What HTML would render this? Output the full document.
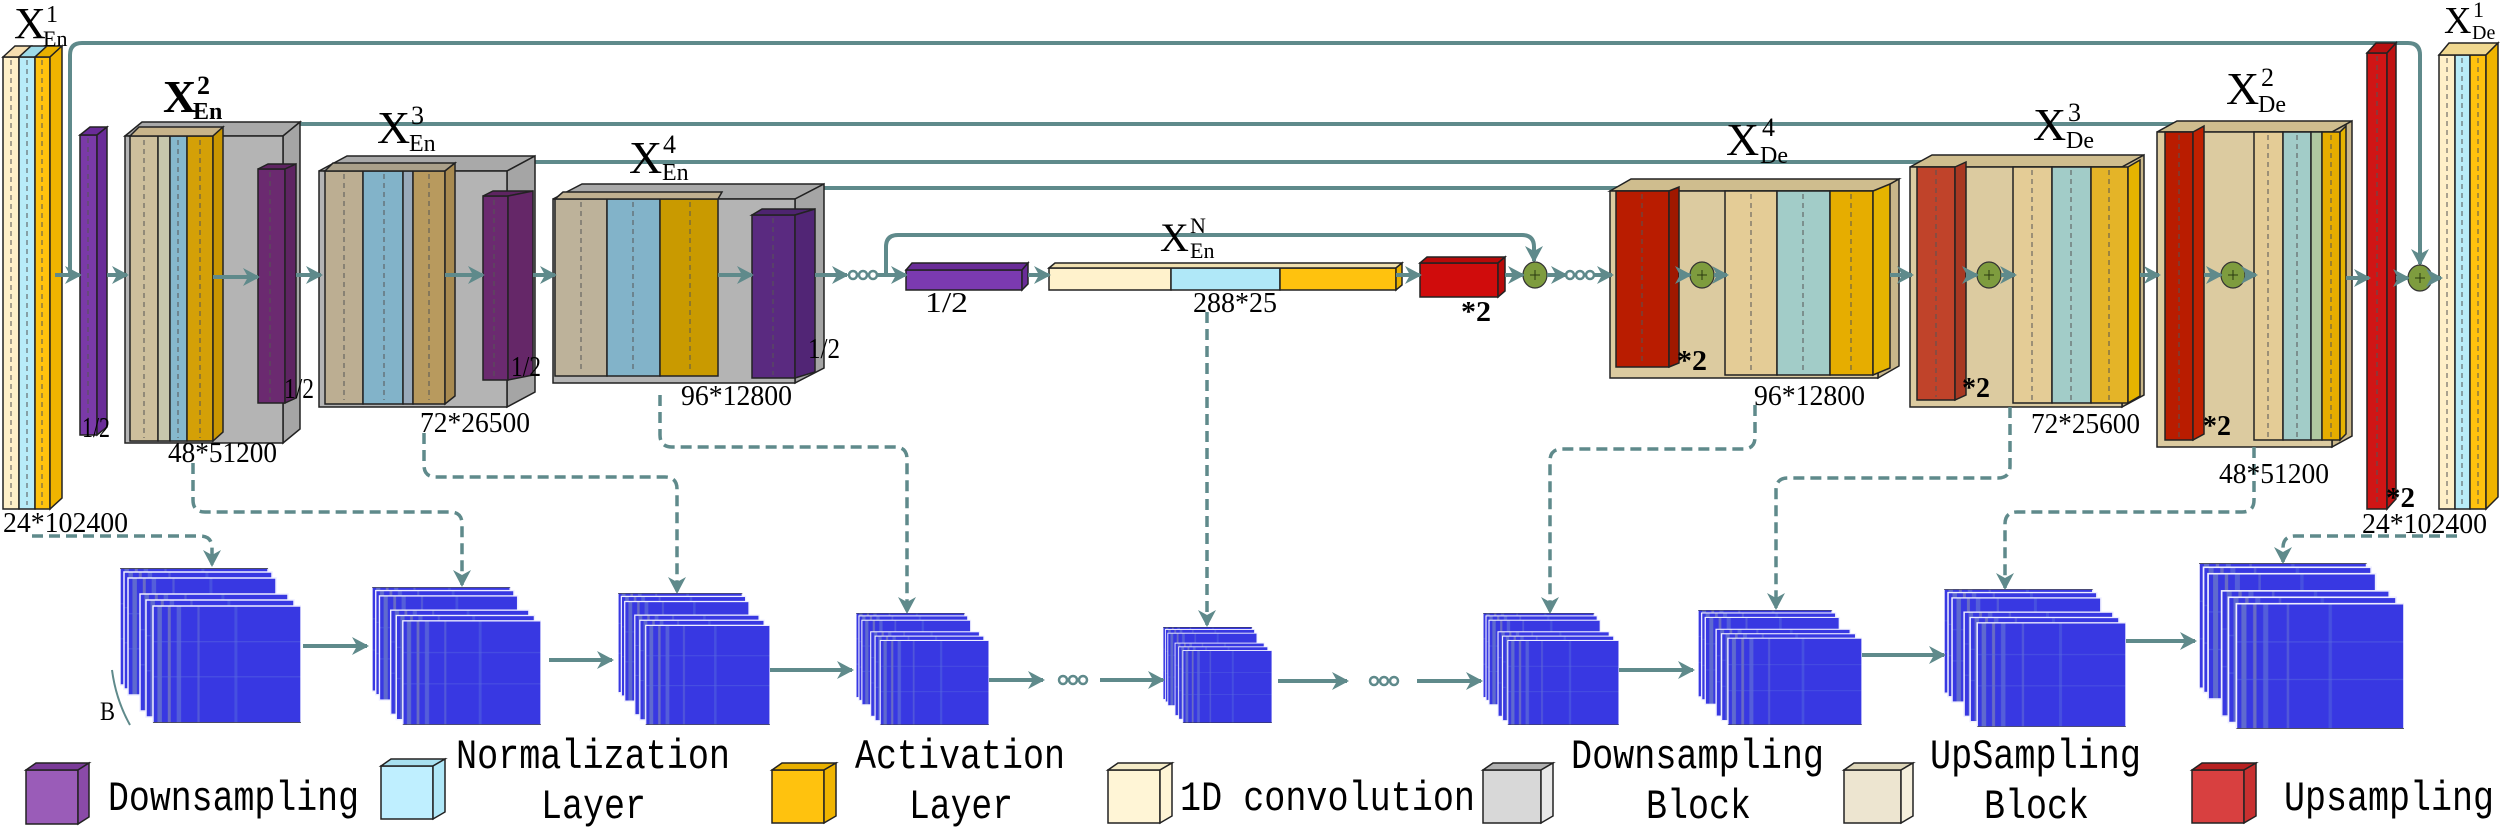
<!DOCTYPE html>
<html><head><meta charset="utf-8"><style>html,body{margin:0;padding:0;background:#fff}svg{display:block}</style></head><body>
<svg width="2500" height="828" viewBox="0 0 2500 828" xmlns="http://www.w3.org/2000/svg">
<defs>
<marker id="ar" markerUnits="userSpaceOnUse" markerWidth="20" markerHeight="18" refX="15" refY="9" orient="auto"><path d="M0,0 L17,9 L0,18 L5,9 z" fill="#5f8a8b"/></marker>
<pattern id="hm" patternUnits="objectBoundingBox" patternContentUnits="objectBoundingBox" width="1" height="1">
<rect width="1" height="1" fill="#3838e2"/>
<rect x="0.03" width="0.03" height="1" fill="#6f7fc8" opacity="0.7"/>
<rect x="0.1" width="0.02" height="1" fill="#8a8fb0" opacity="0.6"/>
<rect x="0.16" width="0.03" height="1" fill="#5f6ed8" opacity="0.7"/>
<rect x="0.3" width="0.015" height="1" fill="#6b78d0" opacity="0.5"/>
<rect x="0.55" width="0.02" height="1" fill="#5060e0" opacity="0.6"/>
<rect y="0.3" width="1" height="0.01" fill="#5a6ae0" opacity="0.5"/>
<rect y="0.6" width="1" height="0.01" fill="#5a6ae0" opacity="0.5"/>
</pattern>
<symbol id="stk" viewBox="0 0 181 155" preserveAspectRatio="none">
<g stroke="#eef" stroke-width="1.5" fill="url(#hm)">
<rect x="0" y="0" width="148" height="117"/><rect x="4" y="4" width="148" height="117"/><rect x="8" y="10" width="148" height="117"/>
<rect x="20" y="26" width="148" height="117"/><rect x="26" y="32" width="148" height="117"/><rect x="33" y="38" width="148" height="117"/>
</g>
<path d="M0,0 H148 M33,155 H181" stroke="#333" stroke-width="1.5"/>
</symbol>
<g id="ooo" fill="none" stroke="#5f8a8b" stroke-width="2.5"><circle cx="4" cy="0" r="4"/><circle cx="14" cy="0" r="4"/><circle cx="24" cy="0" r="4"/></g>
</defs>

<g fill="none" stroke="#5f8a8b" stroke-width="4">
<path d="M70,275 V55 Q70,43 82,43 H2408 Q2420,43 2420,55 V264" marker-end="url(#ar)"/>
<path d="M236,275 V136 Q236,124 248,124 H2221 Q2233,124 2233,136 V261" marker-end="url(#ar)"/>
<path d="M461,275 V174 Q461,162 473,162 H1977 Q1989,162 1989,174 V261" marker-end="url(#ar)"/>
<path d="M732,275 V200 Q732,188 744,188 H1690 Q1702,188 1702,200 V261" marker-end="url(#ar)"/>
<path d="M886,275 V247 Q886,235 898,235 H1522 Q1534,235 1534,247 V261" marker-end="url(#ar)"/>
</g>

<g stroke="#222" stroke-width="1.5">
<rect x="3" y="57" width="16" height="452" fill="#fff0c8"/><polygon points="3,57 15,46 31,46 19,57" fill="#f5deb0"/>
<rect x="19" y="57" width="16" height="452" fill="#b8ecf8"/><polygon points="19,57 31,46 47,46 35,57" fill="#9edbe8"/>
<rect x="35" y="57" width="15" height="452" fill="#ffc20e"/><polygon points="35,57 47,46 62,46 50,57" fill="#e8b000"/>
<polygon points="50,57 62,46 62,498 50,509" fill="#f0b400"/>
</g>
<g stroke="#222" stroke-width="1.5">
<rect x="80" y="135" width="17" height="300" fill="#7a3aa8"/><polygon points="80,135 90,127 107,127 97,135" fill="#6a2c98"/><polygon points="97,135 107,127 107,427 97,435" fill="#6a2c98"/>
</g>
<g stroke="#222" stroke-width="1.5">
<polygon points="125,136 142,122 300,122 283,136" fill="#a9a9a9"/><polygon points="283,136 300,122 300,429 283,443" fill="#a5a5a5"/>
<rect x="125" y="136" width="158" height="307" fill="#b4b4b4"/>
<rect x="130" y="136" width="28" height="305" fill="#cdbf9c"/><rect x="158" y="136" width="12" height="305" fill="#c7c7ac"/>
<rect x="170" y="136" width="17" height="305" fill="#86b8cd"/><rect x="187" y="136" width="26" height="305" fill="#d4a007"/>
<polygon points="130,136 139,127 223,127 213,136" fill="#c8b48a"/><polygon points="213,136 223,127 223,432 213,441" fill="#c99600"/>
<rect x="258" y="169" width="27" height="234" fill="#6b2a70"/><polygon points="258,169 268,164 296,164 285,169" fill="#5e2462"/><polygon points="285,169 296,164 296,398 285,403" fill="#5e2462"/>
</g>
<g stroke="#222" stroke-width="1.5">
<polygon points="319,171 347,156 535,156 507,171" fill="#a9a9a9"/><polygon points="507,171 535,156 535,392 507,407" fill="#a5a5a5"/>
<rect x="319" y="171" width="188" height="236" fill="#b4b4b4"/>
<rect x="325" y="171" width="38" height="233" fill="#bcae92"/><rect x="363" y="171" width="40" height="233" fill="#82b3c9"/><rect x="403" y="171" width="10" height="233" fill="#9ab"/>
<rect x="413" y="171" width="32" height="233" fill="#b89a5e"/><polygon points="325,171 333,163 455,163 445,171" fill="#aaa08a"/><polygon points="445,171 455,163 455,396 445,404" fill="#a88a50"/>
<rect x="483" y="196" width="25" height="184" fill="#6b2a70"/><polygon points="483,196 493,191 533,191 508,196" fill="#5e2462"/><polygon points="508,196 533,191 533,375 508,380" fill="#652768"/>
</g>
<g stroke="#222" stroke-width="1.5">
<polygon points="553,199 582,184 824,184 795,199" fill="#a9a9a9"/><polygon points="795,199 824,184 824,368 795,383" fill="#a5a5a5"/>
<rect x="553" y="199" width="242" height="184" fill="#b4b4b4"/>
<rect x="555" y="199" width="52" height="177" fill="#bdb29a"/><rect x="607" y="199" width="53" height="177" fill="#82b3c9"/><rect x="660" y="199" width="58" height="177" fill="#c99a00"/>
<polygon points="555,199 563,192 722,192 718,199" fill="#c0b090"/>
<rect x="752" y="215" width="43" height="163" fill="#5a2a80"/><polygon points="752,215 762,209 815,209 795,215" fill="#4e2470"/><polygon points="795,215 815,209 815,372 795,378" fill="#512575"/>
</g>
<g stroke="#222" stroke-width="1.5">
<rect x="906" y="270" width="116" height="20" fill="#7b3ab0"/><polygon points="906,270 912,263 1028,263 1022,270" fill="#6a2c98"/><polygon points="1022,270 1028,263 1028,284 1022,290" fill="#6a2c98"/>
<rect x="1049" y="268" width="122" height="22" fill="#fff2cc"/><rect x="1171" y="268" width="109" height="22" fill="#b0e8f8"/><rect x="1280" y="268" width="116" height="22" fill="#ffc20e"/>
<polygon points="1049,268 1055,263 1402,263 1396,268" fill="#f0e0b0"/><polygon points="1396,268 1402,263 1402,285 1396,290" fill="#e8b000"/>
<rect x="1420" y="263" width="78" height="34" fill="#d00c0c"/><polygon points="1420,263 1427,257 1505,257 1498,263" fill="#b80a0a"/><polygon points="1498,263 1505,257 1505,291 1498,297" fill="#b80a0a"/>
</g>
<g stroke="#222" stroke-width="1.5">
<polygon points="1610,191 1631,179 1899,179 1878,191" fill="#cfbd8e"/><polygon points="1878,191 1899,179 1899,366 1878,378" fill="#c9b78a"/>
<rect x="1610" y="191" width="268" height="187" fill="#dccba0"/>
<rect x="1616" y="191" width="53" height="176" fill="#b91c00"/><polygon points="1669,191 1679,187 1679,363 1669,367" fill="#a01800"/>
<rect x="1725" y="191" width="52" height="184" fill="#e4cc96"/><rect x="1777" y="191" width="53" height="184" fill="#a2ccc8"/><rect x="1830" y="191" width="43" height="184" fill="#e6ad00"/>
<polygon points="1873,191 1890,184 1890,368 1873,375" fill="#e6b400"/>
</g>
<g stroke="#222" stroke-width="1.5">
<polygon points="1910,167 1932,155 2144,155 2122,167" fill="#cfbd8e"/><polygon points="2122,167 2144,155 2144,395 2122,407" fill="#c9b78a"/>
<rect x="1910" y="167" width="212" height="240" fill="#dccba0"/>
<rect x="1917" y="167" width="38" height="233" fill="#c0432a"/><polygon points="1955,167 1966,162 1966,395 1955,400" fill="#a83822"/>
<rect x="2013" y="167" width="39" height="236" fill="#e4cc96"/><rect x="2052" y="167" width="39" height="236" fill="#a2ccc8"/><rect x="2091" y="167" width="37" height="236" fill="#e4b428"/>
<polygon points="2128,167 2140,160 2140,396 2128,403" fill="#e6b400"/>
</g>
<g stroke="#222" stroke-width="1.5">
<polygon points="2157,132 2177,121 2352,121 2332,132" fill="#cfbd8e"/><polygon points="2332,132 2352,121 2352,436 2332,447" fill="#c9b78a"/>
<rect x="2157" y="132" width="175" height="315" fill="#dccba0"/>
<rect x="2165" y="132" width="28" height="308" fill="#b91c00"/><polygon points="2193,132 2204,126 2204,434 2193,440" fill="#c02000"/>
<rect x="2254" y="132" width="29" height="308" fill="#e4cc96"/><rect x="2283" y="132" width="28" height="308" fill="#a2ccc8"/><rect x="2311" y="132" width="11" height="308" fill="#b0c8a0"/><rect x="2322" y="132" width="18" height="308" fill="#e6ad00"/>
<polygon points="2340,132 2346,126 2346,434 2340,440" fill="#e6b400"/>
</g>
<g stroke="#222" stroke-width="1.5">
<rect x="2367" y="53" width="20" height="456" fill="#d01515"/><polygon points="2367,53 2376,43 2396,43 2387,53" fill="#b81010"/><polygon points="2387,53 2396,43 2396,499 2387,509" fill="#c01212"/>
<rect x="2439" y="55" width="16" height="454" fill="#fff0c8"/><rect x="2455" y="55" width="15" height="454" fill="#b8ecf8"/><rect x="2470" y="55" width="16" height="454" fill="#ffc20e"/>
<polygon points="2439,55 2449,43 2498,43 2486,55" fill="#f0d890"/><polygon points="2486,55 2498,43 2498,497 2486,509" fill="#f0b400"/>
</g>
<g stroke="#555" stroke-width="1" stroke-dasharray="5 4" fill="none">
<path d="M11,60V505 M27,60V505 M42,60V505 M88,138V432 M144,140V438 M178,140V438 M200,140V438 M270,172V400 M344,174V400 M384,174V400 M429,174V400 M494,200V377 M581,202V372 M633,202V372 M690,202V372 M773,218V375 M1642,194V364 M1751,194V372 M1803,194V372 M1851,194V372 M1936,170V397 M2032,170V400 M2071,170V400 M2109,170V400 M2179,135V437 M2268,135V437 M2297,135V437 M2331,135V437 M2377,56V506 M2447,58V506 M2462,58V506 M2478,58V506"/>
</g>
<g stroke="#333" stroke-width="1.2" fill="#7e9c3e">
<ellipse cx="1535" cy="275" rx="12" ry="13"/><ellipse cx="1702" cy="275" rx="12" ry="13"/><ellipse cx="1989" cy="275" rx="12" ry="13"/><ellipse cx="2233" cy="275" rx="12" ry="13"/><ellipse cx="2420" cy="278" rx="12" ry="13"/>
</g>
<g stroke="#2a3a10" stroke-width="1"><path d="M1530,275h10M1535,270v10M1697,275h10M1702,270v10M1984,275h10M1989,270v10M2228,275h10M2233,270v10M2415,278h10M2420,273v10"/></g>
<g stroke="#5f8a8b" stroke-width="4" fill="none" marker-end="url(#ar)">
<path d="M55,275H80"/><path d="M107,275H127"/><path d="M213,277H258"/><path d="M296,275H321"/><path d="M445,275H483"/><path d="M533,275H555"/><path d="M718,275H752"/><path d="M815,275H847"/><path d="M876,275H906"/>
<path d="M1028,275H1049"/><path d="M1396,275H1420"/><path d="M1505,275H1523"/><path d="M1547,275H1566"/><path d="M1594,275H1612"/>
<path d="M1679,275H1690"/><path d="M1714,275H1727"/><path d="M1890,275H1912"/><path d="M1966,275H1977"/><path d="M2001,275H2015"/><path d="M2140,275H2159"/>
<path d="M2204,275H2221"/><path d="M2245,275H2256"/><path d="M2346,278H2369"/><path d="M2396,278H2408"/><path d="M2432,278H2441"/>
</g>
<use href="#ooo" x="849" y="275"/><use href="#ooo" x="1566" y="275"/>

<g fill="none" stroke="#5f8a8b" stroke-width="3.5" stroke-dasharray="11 6" marker-end="url(#ar)">
<path d="M32,536 H200 Q212,536 212,548 V565"/>
<path d="M193,463 V500 Q193,512 205,512 H450 Q462,512 462,524 V585"/>
<path d="M424,433 V465 Q424,477 436,477 H665 Q677,477 677,489 V592"/>
<path d="M660,395 V435 Q660,447 672,447 H895 Q907,447 907,459 V612"/>
<path d="M1207,312 V625"/>
<path d="M1755,405 V437 Q1755,449 1743,449 H1562 Q1550,449 1550,461 V612"/>
<path d="M2010,407 V466 Q2010,478 1998,478 H1788 Q1776,478 1776,490 V608"/>
<path d="M2254,447 V500 Q2254,512 2242,512 H2017 Q2005,512 2005,524 V588"/>
<path d="M2457,536 H2295 Q2283,536 2283,548 V562"/>
</g>

<use href="#stk" x="120" y="568" width="181" height="155"/>
<use href="#stk" x="372" y="587" width="169" height="138"/>
<use href="#stk" x="618" y="593" width="152" height="132"/>
<use href="#stk" x="856" y="613" width="133" height="112"/>
<use href="#stk" x="1163" y="627" width="109" height="96"/>
<use href="#stk" x="1483" y="613" width="136" height="112"/>
<use href="#stk" x="1698" y="610" width="164" height="115"/>
<use href="#stk" x="1944" y="589" width="182" height="138"/>
<use href="#stk" x="2199" y="563" width="205" height="166"/>
<g stroke="#5f8a8b" stroke-width="4" fill="none" marker-end="url(#ar)">
<path d="M303,646H367"/><path d="M549,660H612"/><path d="M770,670H852"/><path d="M989,680H1043"/><path d="M1100,680H1163"/>
<path d="M1278,681H1347"/><path d="M1417,681H1481"/><path d="M1619,670H1693"/><path d="M1862,655H1944"/><path d="M2126,641H2195"/>
</g>
<use href="#ooo" x="1059" y="680"/><use href="#ooo" x="1370" y="681"/>
<path d="M112,670 Q116,700 130,725" stroke="#5f8a8b" stroke-width="2" fill="none"/>
<text x="100" y="720" font-family="Liberation Serif, serif" font-size="26" textLength="15" lengthAdjust="spacingAndGlyphs">B</text>

<g font-family="Liberation Serif, serif" fill="#000">
<text x="14" y="38" font-size="44">X</text><text x="46" y="22" font-size="24">1</text><text x="43" y="46" font-size="22">En</text>
<text x="163" y="112" font-size="46" font-weight="bold">X</text><text x="197" y="94" font-size="26" font-weight="bold">2</text><text x="193" y="119" font-size="24" font-weight="bold">En</text>
<text x="377" y="143" font-size="46">X</text><text x="411" y="124" font-size="26">3</text><text x="409" y="151" font-size="24">En</text>
<text x="629" y="173" font-size="46">X</text><text x="663" y="153" font-size="26">4</text><text x="662" y="180" font-size="24">En</text>
<text x="1160" y="251" font-size="40">X</text><text x="1190" y="233" font-size="22">N</text><text x="1190" y="258" font-size="22">En</text>
<text x="1726" y="155" font-size="46">X</text><text x="1762" y="136" font-size="26">4</text><text x="1760" y="163" font-size="24">De</text>
<text x="2033" y="140" font-size="46">X</text><text x="2068" y="121" font-size="26">3</text><text x="2066" y="148" font-size="24">De</text>
<text x="2226" y="104" font-size="46">X</text><text x="2261" y="86" font-size="26">2</text><text x="2258" y="112" font-size="24">De</text>
<text x="2444" y="33" font-size="38">X</text><text x="2473" y="17" font-size="22">1</text><text x="2472" y="39" font-size="20">De</text>
</g>
<g font-family="Liberation Serif, serif" font-size="28" fill="#000">
<text x="3" y="532" textLength="125" lengthAdjust="spacingAndGlyphs">24*102400</text>
<text x="168" y="462" textLength="109" lengthAdjust="spacingAndGlyphs">48*51200</text>
<text x="420" y="432" textLength="110" lengthAdjust="spacingAndGlyphs">72*26500</text>
<text x="681" y="405" textLength="111" lengthAdjust="spacingAndGlyphs">96*12800</text>
<text x="82" y="437" textLength="28" lengthAdjust="spacingAndGlyphs">1/2</text>
<text x="284" y="398" textLength="30" lengthAdjust="spacingAndGlyphs">1/2</text>
<text x="511" y="376" textLength="30" lengthAdjust="spacingAndGlyphs">1/2</text>
<text x="808" y="358" textLength="32" lengthAdjust="spacingAndGlyphs">1/2</text>
<text x="925" y="312" textLength="43" lengthAdjust="spacingAndGlyphs">1/2</text>
<text x="1193" y="312" textLength="84" lengthAdjust="spacingAndGlyphs">288*25</text>
<text x="1461" y="321" textLength="30" lengthAdjust="spacingAndGlyphs" font-weight="bold">*2</text>
<text x="1677" y="370" textLength="30" lengthAdjust="spacingAndGlyphs" font-weight="bold">*2</text>
<text x="1962" y="397" textLength="28" lengthAdjust="spacingAndGlyphs" font-weight="bold">*2</text>
<text x="2203" y="435" textLength="28" lengthAdjust="spacingAndGlyphs" font-weight="bold">*2</text>
<text x="2386" y="507" textLength="29" lengthAdjust="spacingAndGlyphs" font-weight="bold">*2</text>
<text x="1754" y="405" textLength="111" lengthAdjust="spacingAndGlyphs">96*12800</text>
<text x="2031" y="433" textLength="109" lengthAdjust="spacingAndGlyphs">72*25600</text>
<text x="2219" y="483" textLength="110" lengthAdjust="spacingAndGlyphs">48*51200</text>
<text x="2362" y="533" textLength="125" lengthAdjust="spacingAndGlyphs">24*102400</text>
</g>

<g stroke="#222" stroke-width="1.5">
<rect x="26" y="770" width="52" height="54" fill="#9a5cb8"/><polygon points="26,770 36,763 89,763 78,770" fill="#7a3a98"/><polygon points="78,770 89,763 89,817 78,824" fill="#8a4aa8"/>
<rect x="381" y="766" width="52" height="53" fill="#bfefff"/><polygon points="381,766 391,759 445,759 433,766" fill="#a8e0f0"/><polygon points="433,766 445,759 445,812 433,819" fill="#b0e8f8"/>
<rect x="772" y="770" width="52" height="53" fill="#ffc20e"/><polygon points="772,770 782,763 836,763 824,770" fill="#e8b000"/><polygon points="824,770 836,763 836,816 824,823" fill="#f0b400"/>
<rect x="1108" y="770" width="52" height="53" fill="#fff5d6"/><polygon points="1108,770 1118,763 1172,763 1160,770" fill="#f5ecc8"/><polygon points="1160,770 1172,763 1172,816 1160,823" fill="#fff5d6"/>
<rect x="1483" y="770" width="58" height="53" fill="#d8d8d8"/><polygon points="1483,770 1493,763 1553,763 1541,770" fill="#b0b0b0"/><polygon points="1541,770 1553,763 1553,816 1541,823" fill="#e8e8e8"/>
<rect x="1844" y="770" width="57" height="53" fill="#ede5d0"/><polygon points="1844,770 1854,763 1913,763 1901,770" fill="#ddd5b8"/><polygon points="1901,770 1913,763 1913,816 1901,823" fill="#f5efdc"/>
<rect x="2192" y="770" width="52" height="53" fill="#d84040"/><polygon points="2192,770 2202,763 2256,763 2244,770" fill="#b82020"/><polygon points="2244,770 2256,763 2256,816 2244,823" fill="#c83030"/>
</g>
<g font-family="Liberation Mono, monospace" font-size="42" fill="#000">
<text x="108" y="810" textLength="251" lengthAdjust="spacingAndGlyphs">Downsampling</text>
<text x="456" y="768" textLength="274" lengthAdjust="spacingAndGlyphs">Normalization</text>
<text x="541" y="818" textLength="105" lengthAdjust="spacingAndGlyphs">Layer</text>
<text x="855" y="768" textLength="210" lengthAdjust="spacingAndGlyphs">Activation</text>
<text x="909" y="818" textLength="104" lengthAdjust="spacingAndGlyphs">Layer</text>
<text x="1180" y="810" textLength="295" lengthAdjust="spacingAndGlyphs">1D convolution</text>
<text x="1571" y="768" textLength="253" lengthAdjust="spacingAndGlyphs">Downsampling</text>
<text x="1646" y="818" textLength="105" lengthAdjust="spacingAndGlyphs">Block</text>
<text x="1930" y="768" textLength="211" lengthAdjust="spacingAndGlyphs">UpSampling</text>
<text x="1984" y="818" textLength="105" lengthAdjust="spacingAndGlyphs">Block</text>
<text x="2284" y="810" textLength="210" lengthAdjust="spacingAndGlyphs">Upsampling</text>
</g>
</svg>
</body></html>
